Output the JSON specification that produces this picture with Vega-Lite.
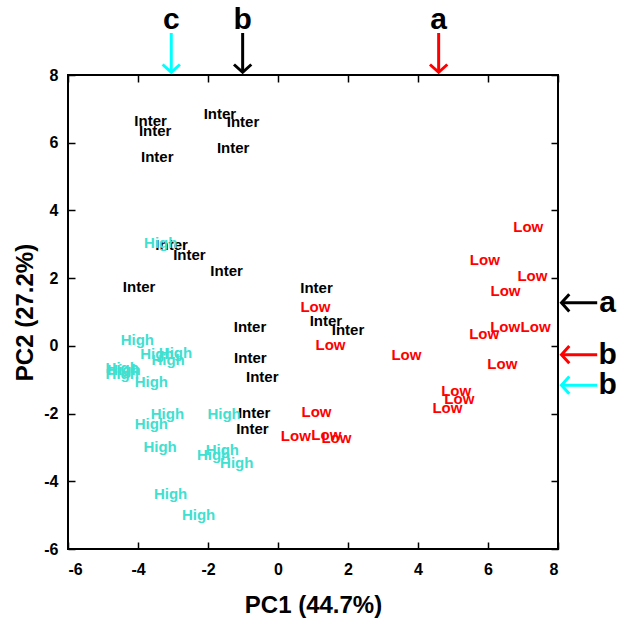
{
  "$schema": "https://vega.github.io/schema/vega-lite/v6.json",
  "width": 490,
  "height": 474,
  "autosize": {"type": "none"},
  "padding": {"left": 68, "top": 75, "right": 62, "bottom": 71},
  "background": "white",
  "config": {
    "view": {"stroke": "black", "strokeWidth": 2},
    "font": "Liberation Sans",
    "axis": {"grid": false, "domain": false, "tickColor": "black", "tickWidth": 1.5, "tickSize": -7,
      "labelFont": "Liberation Sans", "labelFontWeight": "bold", "labelFontSize": 16, "labelColor": "black",
      "labelExpr": "'' + datum.value",
      "titleFont": "Liberation Sans", "titleFontWeight": "bold", "titleFontSize": 24, "titleColor": "black"}
  },
  "datasets": {
    "scores": [
      {"pc1": -3.64, "pc2": 6.64, "group": "Inter"},
      {"pc1": -3.51, "pc2": 6.35, "group": "Inter"},
      {"pc1": -3.45, "pc2": 5.57, "group": "Inter"},
      {"pc1": -1.66, "pc2": 6.84, "group": "Inter"},
      {"pc1": -1.0, "pc2": 6.6, "group": "Inter"},
      {"pc1": -1.28, "pc2": 5.84, "group": "Inter"},
      {"pc1": -3.04, "pc2": 2.97, "group": "Inter"},
      {"pc1": -2.53, "pc2": 2.68, "group": "Inter"},
      {"pc1": -1.47, "pc2": 2.21, "group": "Inter"},
      {"pc1": -3.97, "pc2": 1.74, "group": "Inter"},
      {"pc1": -0.8, "pc2": 0.56, "group": "Inter"},
      {"pc1": -0.79, "pc2": -0.36, "group": "Inter"},
      {"pc1": -0.45, "pc2": -0.92, "group": "Inter"},
      {"pc1": -0.68, "pc2": -1.98, "group": "Inter"},
      {"pc1": -0.73, "pc2": -2.46, "group": "Inter"},
      {"pc1": 1.1, "pc2": 1.7, "group": "Inter"},
      {"pc1": 1.37, "pc2": 0.74, "group": "Inter"},
      {"pc1": 2.0, "pc2": 0.46, "group": "Inter"},
      {"pc1": 1.07, "pc2": 1.15, "group": "Low"},
      {"pc1": 1.5, "pc2": 0.03, "group": "Low"},
      {"pc1": 3.67, "pc2": -0.27, "group": "Low"},
      {"pc1": 7.15, "pc2": 3.52, "group": "Low"},
      {"pc1": 5.91, "pc2": 2.53, "group": "Low"},
      {"pc1": 7.27, "pc2": 2.06, "group": "Low"},
      {"pc1": 6.5, "pc2": 1.62, "group": "Low"},
      {"pc1": 6.49, "pc2": 0.56, "group": "Low"},
      {"pc1": 7.36, "pc2": 0.56, "group": "Low"},
      {"pc1": 5.89, "pc2": 0.35, "group": "Low"},
      {"pc1": 6.41, "pc2": -0.53, "group": "Low"},
      {"pc1": 5.09, "pc2": -1.32, "group": "Low"},
      {"pc1": 5.18, "pc2": -1.58, "group": "Low"},
      {"pc1": 4.84, "pc2": -1.83, "group": "Low"},
      {"pc1": 1.1, "pc2": -1.96, "group": "Low"},
      {"pc1": 0.51, "pc2": -2.66, "group": "Low"},
      {"pc1": 1.38, "pc2": -2.64, "group": "Low"},
      {"pc1": 1.67, "pc2": -2.73, "group": "Low"},
      {"pc1": -3.35, "pc2": 3.03, "group": "High"},
      {"pc1": -4.02, "pc2": 0.17, "group": "High"},
      {"pc1": -3.46, "pc2": -0.25, "group": "High"},
      {"pc1": -2.93, "pc2": -0.2, "group": "High"},
      {"pc1": -3.14, "pc2": -0.42, "group": "High"},
      {"pc1": -4.45, "pc2": -0.64, "group": "High"},
      {"pc1": -4.45, "pc2": -0.82, "group": "High"},
      {"pc1": -4.4, "pc2": -0.72, "group": "High"},
      {"pc1": -3.62, "pc2": -1.07, "group": "High"},
      {"pc1": -3.16, "pc2": -2.01, "group": "High"},
      {"pc1": -3.62, "pc2": -2.3, "group": "High"},
      {"pc1": -1.54, "pc2": -2.01, "group": "High"},
      {"pc1": -3.37, "pc2": -2.98, "group": "High"},
      {"pc1": -1.59, "pc2": -3.08, "group": "High"},
      {"pc1": -1.84, "pc2": -3.21, "group": "High"},
      {"pc1": -1.18, "pc2": -3.47, "group": "High"},
      {"pc1": -3.07, "pc2": -4.38, "group": "High"},
      {"pc1": -2.27, "pc2": -5.0, "group": "High"}
    ],
    "topArrows": [
      {"pc1": -3.05, "group": "High", "letter": "c"},
      {"pc1": -1.01, "group": "Inter", "letter": "b"},
      {"pc1": 4.59, "group": "Low", "letter": "a"}
    ],
    "rightArrows": [
      {"pc2": 1.27, "group": "Inter", "letter": "a"},
      {"pc2": -0.26, "group": "Low", "letter": "b"},
      {"pc2": -1.16, "group": "High", "letter": "b"}
    ]
  },
  "resolve": {"axis": {"x": "independent", "y": "independent"}},
  "layer": [
    {
      "data": {"name": "scores"},
      "mark": {"type": "text", "font": "Liberation Sans", "fontWeight": "bold", "fontSize": 15, "align": "center", "baseline": "middle"},
      "encoding": {
        "x": {"field": "pc1", "type": "quantitative", "scale": {"domain": [-6, 8], "nice": false, "zero": false},
          "axis": {"orient": "bottom", "values": [-6, -4, -2, 0, 2, 4, 6, 8], "title": "PC1 (44.7%)", "labelPadding": 19, "titlePadding": 16}},
        "y": {"field": "pc2", "type": "quantitative", "scale": {"domain": [-6, 8], "nice": false, "zero": false},
          "axis": {"orient": "left", "values": [-6, -4, -2, 0, 2, 4, 6, 8], "title": "PC2 (27.2%)", "labelPadding": 17, "titlePadding": 6}},
        "text": {"field": "group", "type": "nominal"},
        "color": {"field": "group", "type": "nominal", "scale": {"domain": ["Inter", "Low", "High"], "range": ["#000000", "#FF0000", "#40E0D0"]}, "legend": null}
      }
    },
    {
      "data": {"name": "topArrows"},
      "mark": {"type": "rule", "strokeWidth": 3},
      "encoding": {
        "x": {"field": "pc1", "type": "quantitative", "scale": {"domain": [-6, 8], "nice": false, "zero": false},
          "axis": {"orient": "top", "values": [-6, -4, -2, 0, 2, 4, 6, 8], "labels": false, "title": null}},
        "y": {"datum": 9.24, "type": "quantitative", "scale": {"domain": [-6, 8], "nice": false, "zero": false},
          "axis": {"orient": "right", "values": [-6, -4, -2, 0, 2, 4, 6, 8], "labels": false, "title": null}},
        "y2": {"datum": 8.08},
        "stroke": {"field": "group", "type": "nominal", "scale": {"domain": ["Inter", "Low", "High"], "range": ["#000000", "#FF0000", "#00FFFF"]}, "legend": null}
      }
    },
    {
      "data": {"name": "topArrows"},
      "mark": {"type": "point", "shape": "M-1,-0.9L0,0L1,-0.9", "size": 300, "filled": false, "strokeWidth": 3, "opacity": 1, "strokeCap": "butt"},
      "encoding": {
        "x": {"field": "pc1", "type": "quantitative", "scale": {"domain": [-6, 8], "nice": false, "zero": false}, "axis": null},
        "y": {"datum": 8.08, "type": "quantitative", "scale": {"domain": [-6, 8], "nice": false, "zero": false}, "axis": null},
        "stroke": {"field": "group", "type": "nominal", "scale": {"domain": ["Inter", "Low", "High"], "range": ["#000000", "#FF0000", "#00FFFF"]}, "legend": null}
      }
    },
    {
      "data": {"name": "topArrows"},
      "mark": {"type": "text", "font": "Liberation Sans", "fontWeight": "bold", "fontSize": 30, "align": "center", "baseline": "middle", "color": "black"},
      "encoding": {
        "x": {"field": "pc1", "type": "quantitative", "scale": {"domain": [-6, 8], "nice": false, "zero": false}, "axis": null},
        "y": {"datum": 9.62, "type": "quantitative", "scale": {"domain": [-6, 8], "nice": false, "zero": false}, "axis": null},
        "text": {"field": "letter", "type": "nominal"}
      }
    },
    {
      "data": {"name": "rightArrows"},
      "mark": {"type": "rule", "strokeWidth": 3},
      "encoding": {
        "y": {"field": "pc2", "type": "quantitative", "scale": {"domain": [-6, 8], "nice": false, "zero": false}, "axis": null},
        "x": {"datum": 8.1, "type": "quantitative", "scale": {"domain": [-6, 8], "nice": false, "zero": false}, "axis": null},
        "x2": {"datum": 9.12},
        "stroke": {"field": "group", "type": "nominal", "scale": {"domain": ["Inter", "Low", "High"], "range": ["#000000", "#FF0000", "#00FFFF"]}, "legend": null}
      }
    },
    {
      "data": {"name": "rightArrows"},
      "mark": {"type": "point", "shape": "M0.9,-1L0,0L0.9,1", "size": 300, "filled": false, "strokeWidth": 3, "opacity": 1, "strokeCap": "butt"},
      "encoding": {
        "y": {"field": "pc2", "type": "quantitative", "scale": {"domain": [-6, 8], "nice": false, "zero": false}, "axis": null},
        "x": {"datum": 8.1, "type": "quantitative", "scale": {"domain": [-6, 8], "nice": false, "zero": false}, "axis": null},
        "stroke": {"field": "group", "type": "nominal", "scale": {"domain": ["Inter", "Low", "High"], "range": ["#000000", "#FF0000", "#00FFFF"]}, "legend": null}
      }
    },
    {
      "data": {"name": "rightArrows"},
      "mark": {"type": "text", "font": "Liberation Sans", "fontWeight": "bold", "fontSize": 30, "align": "center", "baseline": "middle", "color": "black"},
      "encoding": {
        "y": {"field": "pc2", "type": "quantitative", "scale": {"domain": [-6, 8], "nice": false, "zero": false}, "axis": null},
        "x": {"datum": 9.42, "type": "quantitative", "scale": {"domain": [-6, 8], "nice": false, "zero": false}, "axis": null},
        "text": {"field": "letter", "type": "nominal"}
      }
    }
  ]
}
